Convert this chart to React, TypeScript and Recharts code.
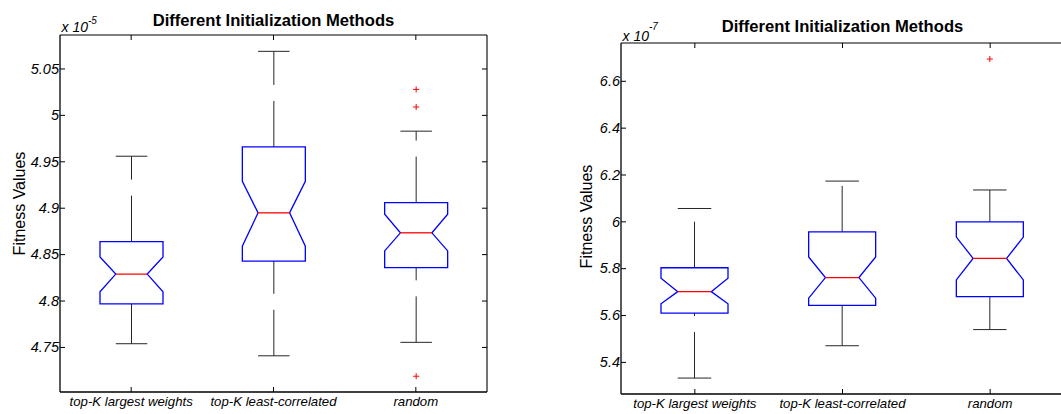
import React from "react";
import { ComposedChart, Bar, Line, XAxis, YAxis } from "recharts";

const categories = ["top-K largest weights", "top-K least-correlated", "random"];

// Left panel (values x 1e-5)
const leftWhiskerLow = [4.754, 4.741, 4.7555];
const leftQ1 = [4.797, 4.843, 4.836];
const leftNotchLow = [4.81, 4.859, 4.854];
const leftMedian = [4.829, 4.895, 4.8735];
const leftNotchHigh = [4.8475, 4.929, 4.8935];
const leftQ3 = [4.864, 4.966, 4.906];
const leftWhiskerHigh = [4.956, 5.069, 4.983];
const leftOutliers = [[], [], [5.028, 5.009, 4.719]];
const leftTicks = [4.75, 4.8, 4.85, 4.9, 4.95, 5, 5.05];
const leftDomain = [4.702, 5.0866];

// Right panel (values x 1e-7)
const rightWhiskerLow = [5.333, 5.471, 5.54];
const rightQ1 = [5.61, 5.643, 5.681];
const rightNotchLow = [5.65, 5.674, 5.752];
const rightMedian = [5.702, 5.762, 5.844];
const rightNotchHigh = [5.759, 5.85, 5.935];
const rightQ3 = [5.804, 5.957, 6.0];
const rightWhiskerHigh = [6.057, 6.174, 6.136];
const rightOutliers = [[], [], [6.695]];
const rightTicks = [5.4, 5.6, 5.8, 6, 6.2, 6.4, 6.6];
const rightDomain = [5.265, 6.7635];

const title = "Different Initialization Methods";
const yLabel = "Fitness Values";

const FONT = "'Liberation Sans', Arial, Helvetica, sans-serif";

function buildRows(lo, q1, nlo, med, nhi, q3, hi, out) {
  return categories.map((c, i) => ({
    cat: c,
    range: [lo[i], hi[i]],
    lo: lo[i],
    q1: q1[i],
    nlo: nlo[i],
    med: med[i],
    nhi: nhi[i],
    q3: q3[i],
    hi: hi[i],
    outliers: out[i],
  }));
}

const leftRows = buildRows(leftWhiskerLow, leftQ1, leftNotchLow, leftMedian, leftNotchHigh, leftQ3, leftWhiskerHigh, leftOutliers);
const rightRows = buildRows(rightWhiskerLow, rightQ1, rightNotchLow, rightMedian, rightNotchHigh, rightQ3, rightWhiskerHigh, rightOutliers);

const fmt = (v) => String(Number(Number(v).toFixed(3)));

const BoxShape = (props) => {
  const { x, y, width, height } = props;
  const d = props.payload && props.payload.q1 !== undefined ? props.payload : props;
  const top = Math.min(y, y + height);
  const bottom = Math.max(y, y + height);
  const py = (v) => bottom - ((v - d.lo) / (d.hi - d.lo)) * (bottom - top);
  const xl = x;
  const xr = x + width;
  const cx = x + width / 2;
  const inset = width / 4;
  const pts = [
    [xl, py(d.q1)],
    [xl, py(d.nlo)],
    [xl + inset, py(d.med)],
    [xl, py(d.nhi)],
    [xl, py(d.q3)],
    [xr, py(d.q3)],
    [xr, py(d.nhi)],
    [xr - inset, py(d.med)],
    [xr, py(d.nlo)],
    [xr, py(d.q1)],
  ];
  const wc = "#262626";
  return (
    <g>
      <line x1={cx} x2={cx} y1={py(d.q3)} y2={py(d.hi)} stroke={wc} strokeWidth={1} strokeDasharray="46 16" />
      <line x1={cx} x2={cx} y1={py(d.lo)} y2={py(d.q1)} stroke={wc} strokeWidth={1} strokeDasharray="46 16" />
      <line x1={cx - width / 4} x2={cx + width / 4} y1={py(d.hi)} y2={py(d.hi)} stroke={wc} strokeWidth={1} />
      <line x1={cx - width / 4} x2={cx + width / 4} y1={py(d.lo)} y2={py(d.lo)} stroke={wc} strokeWidth={1} />
      <polygon points={pts.map((p) => p.join(",")).join(" ")} fill="none" stroke="#0000ff" strokeWidth={1.3} />
      <line x1={xl + inset} x2={xr - inset} y1={py(d.med)} y2={py(d.med)} stroke="#ff0000" strokeWidth={1.3} />
      {(d.outliers || []).map((o, i) => (
        <g key={i}>
          <line x1={cx - 3} x2={cx + 3} y1={py(o)} y2={py(o)} stroke="#ff0000" strokeWidth={1} />
          <line x1={cx} x2={cx} y1={py(o) - 3} y2={py(o) + 3} stroke="#ff0000" strokeWidth={1} />
        </g>
      ))}
    </g>
  );
};

const YTickLeft = (props) => {
  const { x, y, payload } = props;
  return (
    <g>
      <line x1={x} x2={x + 5} y1={y} y2={y} stroke="#000" strokeWidth={1} />
      <text x={x - 1} y={y} dy={4.8} textAnchor="end" fontFamily={FONT} fontSize={14.5} fontStyle="italic" fill="#000">
        {fmt(payload.value)}
      </text>
    </g>
  );
};

const YTickRight = (props) => {
  const { x, y } = props;
  return <line x1={x} x2={x - 5} y1={y} y2={y} stroke="#000" strokeWidth={1} />;
};

const NoTick = () => <g />;

const XTickBottom = (props) => {
  const { x, y, payload } = props;
  return (
    <g>
      <line x1={x} x2={x} y1={y} y2={y - 5} stroke="#000" strokeWidth={1} />
      <text x={x} y={y} dy={14} textAnchor="middle" fontFamily={FONT} fontSize={13.2} fontStyle="italic" fill="#000">
        {payload.value}
      </text>
    </g>
  );
};

const XTickTop = (props) => {
  const { x, y } = props;
  return <line x1={x} x2={x} y1={y} y2={y + 5} stroke="#000" strokeWidth={1} />;
};

function Panel({ rows, ticks, domain, width, margin, yAxisWidth, xAxisHeight, barSize, exp, titleDy, expDy, supDy, yLabelX, yLabelDy, rightSideShown }) {
  const titleContent = (p) => {
    const vb = p.viewBox;
    const ty = vb.y + vb.height;
    return (
      <g>
        <text x={vb.x + vb.width / 2} y={ty - titleDy} textAnchor="middle" fontFamily={FONT} fontSize={16.6} fontWeight="bold" fill="#000">
          {title}
        </text>
        <text x={vb.x + 1.5} y={ty - expDy} fontFamily={FONT} fontSize={14} fontStyle="italic" fill="#000">
          x 10
          <tspan dy={supDy} fontSize={10}>{exp}</tspan>
        </text>
      </g>
    );
  };
  const yLabelContent = (p) => {
    const vb = p.viewBox;
    const lx = vb.x + yLabelX;
    const ly = vb.y + vb.height / 2 + yLabelDy;
    return (
      <text x={lx} y={ly} transform={`rotate(-90 ${lx} ${ly})`} textAnchor="middle" fontFamily={FONT} fontSize={16} fill="#000">
        {yLabel}
      </text>
    );
  };
  return (
    <ComposedChart width={width} height={414} data={rows} margin={margin}>
      <XAxis
        dataKey="cat"
        type="category"
        height={xAxisHeight}
        interval={0}
        tickSize={0}
        tickMargin={0}
        tickLine={false}
        axisLine={{ stroke: "#000", strokeWidth: 1.3 }}
        tick={XTickBottom}
      />
      <XAxis
        xAxisId="top"
        dataKey="cat"
        type="category"
        orientation="top"
        height={1}
        interval={0}
        tickSize={0}
        tickMargin={0}
        tickLine={false}
        axisLine={{ stroke: "#000", strokeWidth: 1.1 }}
        tick={XTickTop}
        label={{ content: titleContent }}
      />
      <YAxis
        type="number"
        domain={domain}
        ticks={ticks}
        allowDataOverflow
        width={yAxisWidth}
        interval={0}
        tickSize={0}
        tickMargin={0}
        tickLine={false}
        axisLine={{ stroke: "#000", strokeWidth: 1.3 }}
        tick={YTickLeft}
        label={{ content: yLabelContent }}
      />
      <YAxis
        yAxisId="right"
        orientation="right"
        type="number"
        domain={domain}
        ticks={ticks}
        allowDataOverflow
        width={1}
        interval={0}
        tickSize={0}
        tickMargin={0}
        tickLine={false}
        axisLine={rightSideShown ? { stroke: "#000", strokeWidth: 1.1 } : false}
        tick={rightSideShown ? YTickRight : NoTick}
      />
      <Bar dataKey="range" barSize={barSize} shape={BoxShape} isAnimationActive={false} />
      <Line
        xAxisId="top"
        yAxisId="right"
        dataKey="med"
        stroke="none"
        strokeWidth={0}
        dot={false}
        activeDot={false}
        legendType="none"
        isAnimationActive={false}
      />
    </ComposedChart>
  );
}

export default function App() {
  return (
    <div style={{ position: "absolute", left: 0, top: 0, width: 1061, height: 414, overflow: "hidden", background: "#fff" }}>
      <div style={{ position: "absolute", left: 0, top: 0, width: 530, height: 414 }}>
        <Panel
          rows={leftRows}
          ticks={leftTicks}
          domain={leftDomain}
          width={530}
          margin={{ top: 34, right: 42, bottom: 0, left: 0 }}
          yAxisWidth={60}
          xAxisHeight={22}
          barSize={63}
          exp="-5"
          titleDy={9}
          expDy={3.3}
          supDy={-8}
          yLabelX={25}
          yLabelDy={-10}
          rightSideShown={true}
        />
      </div>
      <div style={{ position: "absolute", left: 530, top: 0, width: 540, height: 414 }}>
        <Panel
          rows={rightRows}
          ticks={rightTicks}
          domain={rightDomain}
          width={540}
          margin={{ top: 42, right: 5, bottom: 0, left: 0 }}
          yAxisWidth={91}
          xAxisHeight={20}
          barSize={67}
          exp="-7"
          titleDy={11.3}
          expDy={2}
          supDy={-11}
          yLabelX={61.7}
          yLabelDy={-2}
          rightSideShown={false}
        />
      </div>
    </div>
  );
}
